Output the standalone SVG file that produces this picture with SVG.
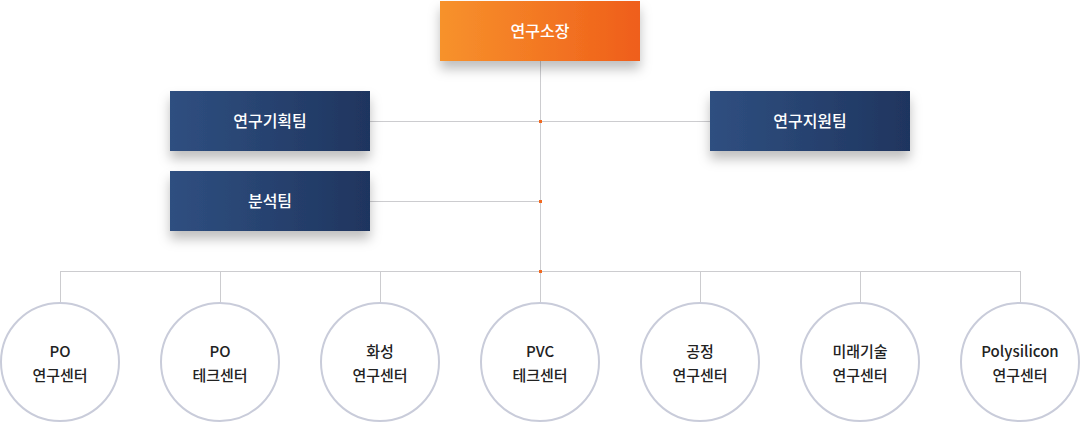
<svg xmlns="http://www.w3.org/2000/svg" width="1080" height="423" viewBox="0 0 1080 423">
<defs>
<linearGradient id="gOrange" x1="0" y1="0" x2="1" y2="0">
<stop offset="0" stop-color="#f7922c"/>
<stop offset="1" stop-color="#ef5e1a"/>
</linearGradient>
<linearGradient id="gNavy" x1="0" y1="0" x2="1" y2="0">
<stop offset="0" stop-color="#2f4f80"/>
<stop offset="1" stop-color="#1f355f"/>
</linearGradient>
<filter id="shadow" x="-20%" y="-20%" width="140%" height="170%">
<feDropShadow dx="0" dy="8" stdDeviation="6" flood-color="#000" flood-opacity="0.25"/>
</filter>
</defs>
<style>
.line{stroke:#cccccf;stroke-width:1;fill:none}
.dot{fill:#f26a21}
.boxtxt{font-family:"Noto Sans CJK KR","Noto Sans",sans-serif;font-size:16px;font-weight:500;fill:#ffffff;text-anchor:middle}
.circ{fill:#ffffff;stroke:#c9ccda;stroke-width:2}
.ctxt{font-family:"Noto Sans CJK KR","Noto Sans",sans-serif;font-size:15px;font-weight:500;fill:#222222;text-anchor:middle}
</style>
<rect width="1080" height="423" fill="#ffffff"/>
<g id="connectors">
<path class="line" d="M540.5 61V271"/>
<path class="line" d="M370 121.5H710"/>
<path class="line" d="M370 201.5H540"/>
<path class="line" d="M60.5 271.5H1020.5"/>
<path class="line" d="M60.5 271V303M220.5 271V303M380.5 271V303M540.5 271V303M700.5 271V303M860.5 271V303M1020.5 271V303"/>
<rect class="dot" x="539" y="120" width="3" height="3"/>
<rect class="dot" x="539" y="200" width="3" height="3"/>
<rect class="dot" x="539" y="270" width="3" height="3"/>
</g>
<g id="director">
<rect x="440" y="1" width="200" height="60" fill="url(#gOrange)" filter="url(#shadow)"/>
<text class="boxtxt" x="540" y="37">연구소장</text>
</g>
<g id="planning">
<rect x="170" y="91" width="200" height="60" fill="url(#gNavy)" filter="url(#shadow)"/>
<text class="boxtxt" x="270" y="127">연구기획팀</text>
</g>
<g id="support">
<rect x="710" y="91" width="200" height="60" fill="url(#gNavy)" filter="url(#shadow)"/>
<text class="boxtxt" x="810" y="127">연구지원팀</text>
</g>
<g id="analysis">
<rect x="170" y="171" width="200" height="60" fill="url(#gNavy)" filter="url(#shadow)"/>
<text class="boxtxt" x="270" y="207">분석팀</text>
</g>
<g id="c1"><circle class="circ" cx="60" cy="362" r="59"/><text class="ctxt" x="60" y="357">PO</text><text class="ctxt" x="60" y="381">연구센터</text></g>
<g id="c2"><circle class="circ" cx="220" cy="362" r="59"/><text class="ctxt" x="220" y="357">PO</text><text class="ctxt" x="220" y="381">테크센터</text></g>
<g id="c3"><circle class="circ" cx="380" cy="362" r="59"/><text class="ctxt" x="380" y="357">화성</text><text class="ctxt" x="380" y="381">연구센터</text></g>
<g id="c4"><circle class="circ" cx="540" cy="362" r="59"/><text class="ctxt" x="540" y="357">PVC</text><text class="ctxt" x="540" y="381">테크센터</text></g>
<g id="c5"><circle class="circ" cx="700" cy="362" r="59"/><text class="ctxt" x="700" y="357">공정</text><text class="ctxt" x="700" y="381">연구센터</text></g>
<g id="c6"><circle class="circ" cx="860" cy="362" r="59"/><text class="ctxt" x="860" y="357">미래기술</text><text class="ctxt" x="860" y="381">연구센터</text></g>
<g id="c7"><circle class="circ" cx="1020" cy="362" r="59"/><text class="ctxt" x="1020" y="357">Polysilicon</text><text class="ctxt" x="1020" y="381">연구센터</text></g>
</svg>
